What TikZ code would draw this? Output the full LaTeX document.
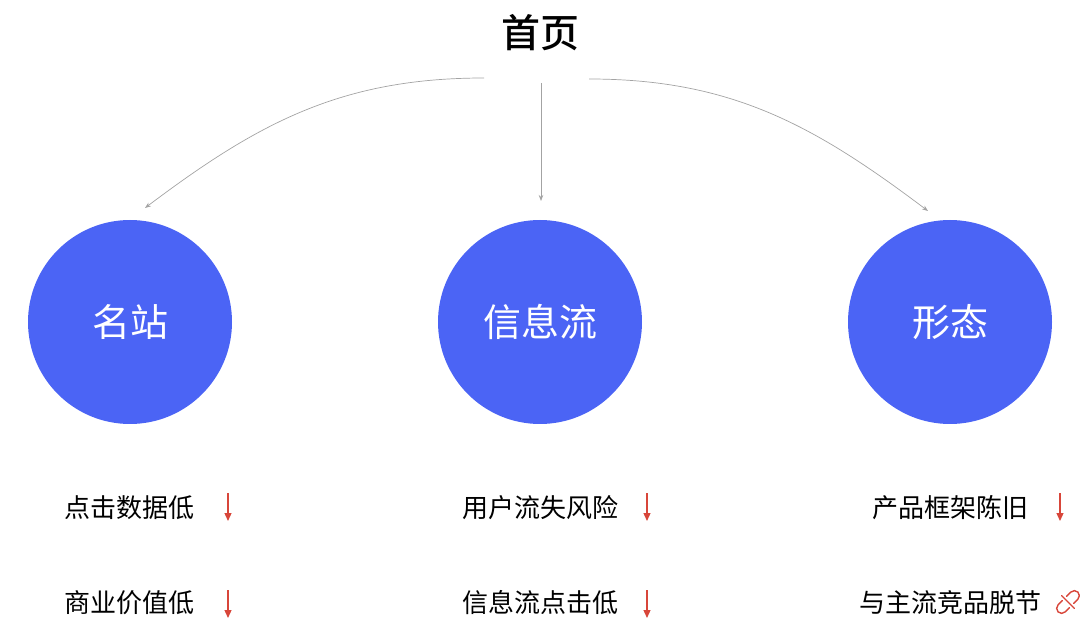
\documentclass[tikz,border=0pt]{standalone}
\usepackage{fontspec}
\setmainfont{Noto Sans CJK SC}
\newfontfamily\titlefont{Noto Sans CJK SC Medium}
\usetikzlibrary{arrows.meta}

\definecolor{circblue}{HTML}{4B64F5}
\definecolor{linkgray}{HTML}{A3A3A3}
\definecolor{downred}{HTML}{D8463A}

\tikzset{
  topic/.style={circle, fill=circblue, minimum size=204pt, inner sep=0pt,
    text=white, font=\fontsize{38}{40}\selectfont},
  issue/.style={inner sep=0pt, font=\fontsize{26}{28}\selectfont},
  branch/.style={draw=linkgray, line width=0.7pt, -{Stealth[length=6pt,width=4.5pt]}},
  drop/.style={draw=downred, line width=1.3pt, -{Triangle[length=8pt,width=7pt]}}
}

\begin{document}
\begin{tikzpicture}[x=1pt, y=-1pt]
  \useasboundingbox (0,0) rectangle (1080,628);

  % Titre
  \node[inner sep=0pt, font=\titlefont\fontsize{39}{41}\selectfont] (home) at (540,33) {首页};

  % Cercles
  \node[topic] (site) at (130,322) {名站};
  \node[topic] (feed) at (540,322) {信息流};
  \node[topic] (form) at (950,322) {形态};

  % Départs et arrivées des flèches
  \coordinate (sL) at (484,78);
  \coordinate (sM) at (541,83);
  \coordinate (sR) at (589,79);
  \coordinate (eL) at (145,208);
  \coordinate (eM) at (541,201);
  \coordinate (eR) at (928,211);

  % Flèches
  \draw[branch] (sL) to[out=180, in=37] (eL);
  \draw[branch] (sM) -- (eM);
  \draw[branch] (sR) to[out=0, in=143] (eR);

  % Textes du bas
  \node[issue] (a1) at (129,508) {点击数据低};
  \node[issue] (a2) at (129,603) {商业价值低};
  \node[issue] (b1) at (540,508) {用户流失风险};
  \node[issue] (b2) at (540,603) {信息流点击低};
  \node[issue] (c1) at (950,508) {产品框架陈旧};
  \node[issue] (c2) at (950,603) {与主流竞品脱节};

  % Flèches rouges
  \foreach \x/\y in {228/493, 228/590, 647/493, 647/590, 1060/493}
    \draw[drop] (\x,\y) -- (\x,\y+28);

  % Lien rompu
  \begin{scope}[shift={(1068,602)}, rotate=45, draw=downred, line width=1.4pt, line cap=round]
    \draw (-3,-5) -- (-9,-5) arc[start angle=-90, end angle=-270, radius=5] -- (-3,5);
    \draw (3,-5) -- (9,-5) arc[start angle=-90, end angle=90, radius=5] -- (3,5);
    \draw (0,-9) -- (0,9);
  \end{scope}
\end{tikzpicture}
\end{document}
